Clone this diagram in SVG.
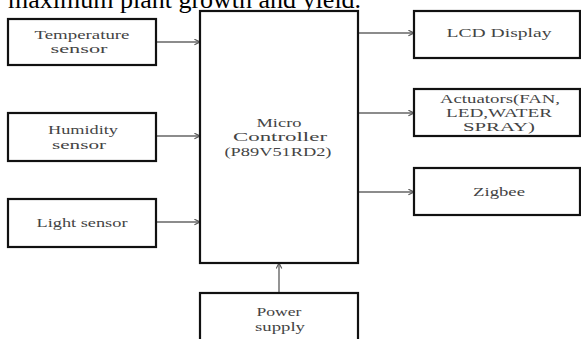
<svg xmlns="http://www.w3.org/2000/svg" width="581" height="339" viewBox="0 0 581 339">
<defs>
<style>
.box{fill:#fff;stroke:#111;stroke-width:2.2}
.t{font-family:"Liberation Serif","Times New Roman",serif;font-size:12px;fill:#444;text-anchor:middle}
.c{stroke:#666;stroke-width:1.4;fill:none}
.hd{font-family:"Liberation Serif","Times New Roman",serif;font-size:26px;fill:#000}
</style>
<marker id="ah" viewBox="0 0 10 10" refX="9" refY="5" markerWidth="7" markerHeight="7" markerUnits="userSpaceOnUse" orient="auto">
<path d="M1,1 L9,5 L1,9" fill="none" stroke="#555" stroke-width="1.6"/>
</marker>
</defs>
<rect width="581" height="339" fill="#fff"/>
<text class="hd" x="8" y="8">maximum plant growth and yield.</text>

<g id="connectors">
<line class="c" x1="156" y1="42" x2="200" y2="42" marker-end="url(#ah)"/>
<line class="c" x1="156" y1="136" x2="200" y2="136" marker-end="url(#ah)"/>
<line class="c" x1="156" y1="222" x2="200" y2="222" marker-end="url(#ah)"/>
<line class="c" x1="358" y1="33" x2="414" y2="33" marker-end="url(#ah)"/>
<line class="c" x1="358" y1="113" x2="414" y2="113" marker-end="url(#ah)"/>
<line class="c" x1="358" y1="192" x2="414" y2="192" marker-end="url(#ah)"/>
<line class="c" x1="279" y1="293" x2="279" y2="263" marker-end="url(#ah)"/>
</g>

<g id="temp">
<rect class="box" x="8" y="19" width="148" height="46"/>
<text class="t" x="82" y="39" textLength="95" lengthAdjust="spacingAndGlyphs">Temperature</text>
<text class="t" x="79" y="53" textLength="57" lengthAdjust="spacingAndGlyphs">sensor</text>
</g>
<g id="humidity">
<rect class="box" x="8" y="113" width="148" height="48"/>
<text class="t" x="83" y="134" textLength="70" lengthAdjust="spacingAndGlyphs">Humidity</text>
<text class="t" x="79" y="149" textLength="54" lengthAdjust="spacingAndGlyphs">sensor</text>
</g>
<g id="light">
<rect class="box" x="8" y="199" width="148" height="48"/>
<text class="t" x="82" y="227" textLength="91" lengthAdjust="spacingAndGlyphs">Light sensor</text>
</g>
<g id="mcu">
<rect class="box" x="200" y="11" width="158" height="252"/>
<text class="t" x="279" y="127" textLength="45" lengthAdjust="spacingAndGlyphs">Micro</text>
<text class="t" x="280" y="141" textLength="94" lengthAdjust="spacingAndGlyphs">Controller</text>
<text class="t" x="278" y="156" textLength="107" lengthAdjust="spacingAndGlyphs">(P89V51RD2)</text>
</g>
<g id="power">
<rect class="box" x="200" y="293" width="158" height="55"/>
<text class="t" x="279" y="316" textLength="45" lengthAdjust="spacingAndGlyphs">Power</text>
<text class="t" x="280" y="331" textLength="50" lengthAdjust="spacingAndGlyphs">supply</text>
</g>
<g id="lcd">
<rect class="box" x="414" y="11" width="166" height="47"/>
<text class="t" x="499" y="37" textLength="105" lengthAdjust="spacingAndGlyphs">LCD  Display</text>
</g>
<g id="actuators">
<rect class="box" x="414" y="89" width="166" height="47"/>
<text class="t" x="500" y="103" textLength="120" lengthAdjust="spacingAndGlyphs">Actuators(FAN,</text>
<text class="t" x="499" y="117" textLength="106" lengthAdjust="spacingAndGlyphs">LED,WATER</text>
<text class="t" x="499" y="131" textLength="72" lengthAdjust="spacingAndGlyphs">SPRAY)</text>
</g>
<g id="zigbee">
<rect class="box" x="414" y="168" width="166" height="47"/>
<text class="t" x="499" y="196" textLength="52" lengthAdjust="spacingAndGlyphs">Zigbee</text>
</g>
</svg>
